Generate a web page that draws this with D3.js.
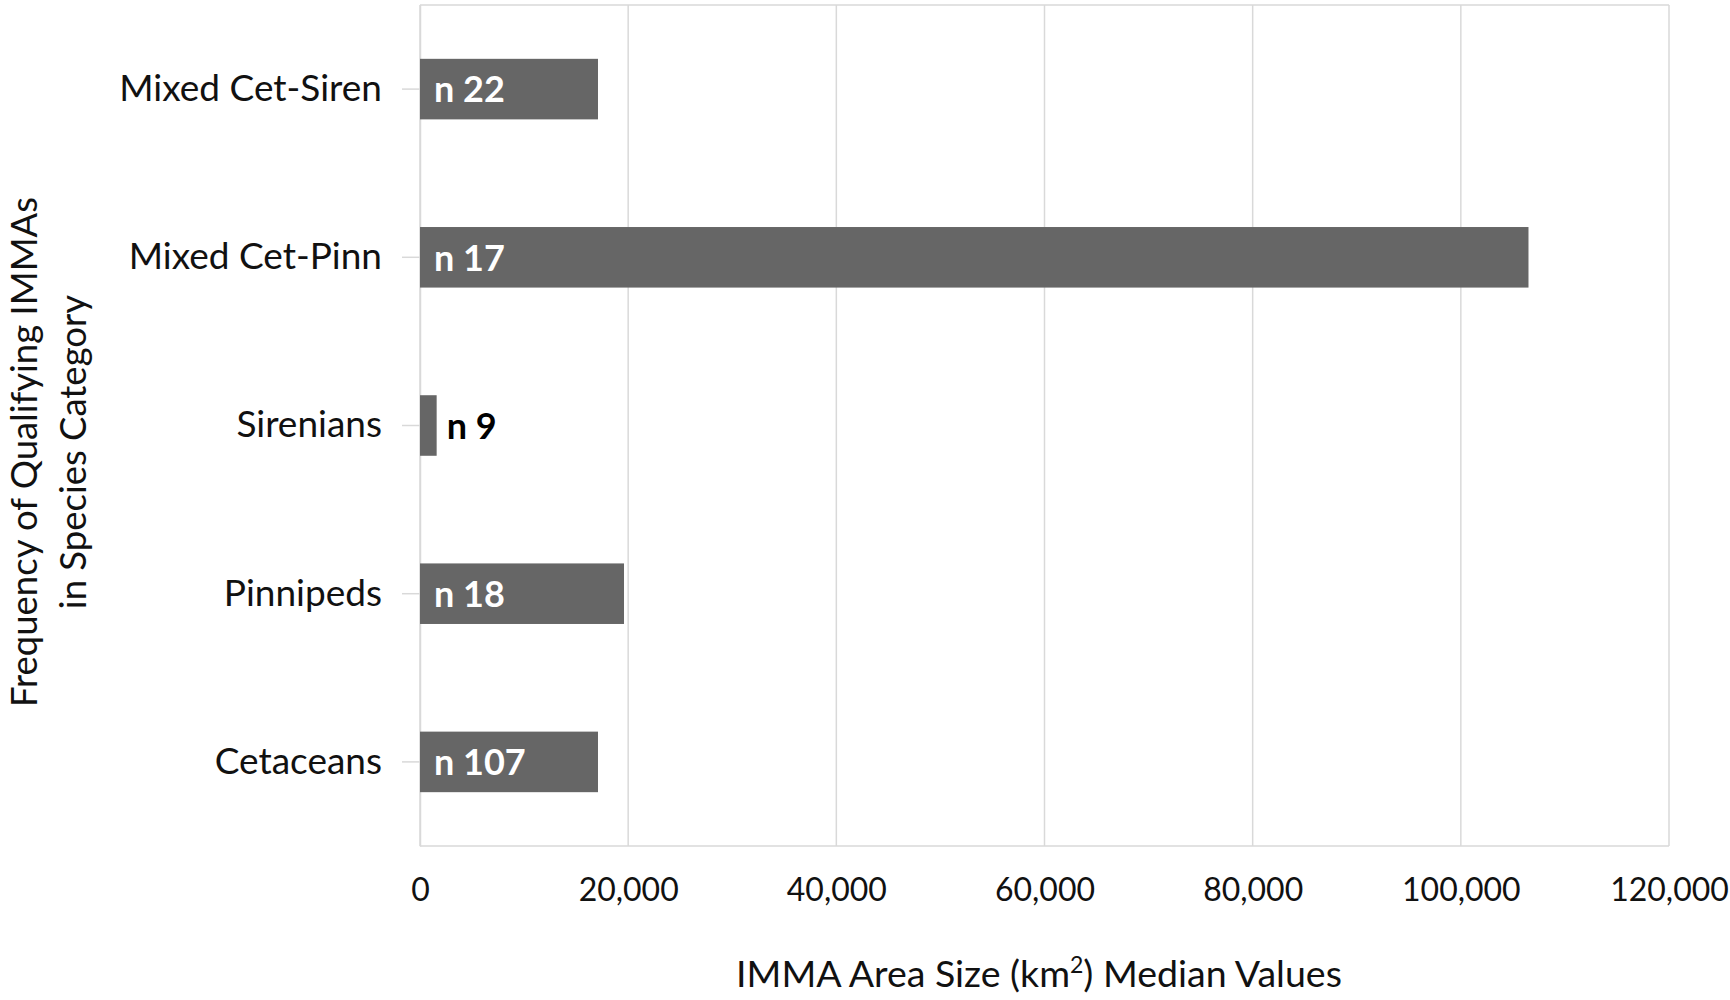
<!DOCTYPE html>
<html>
<head>
<meta charset="utf-8">
<script src="https://cdn.jsdelivr.net/npm/d3@7"></script>
<style>
  html, body { margin: 0; padding: 0; background: #fff; }
  svg { display: block; font-family: Lato, "Open Sans", sans-serif; }
</style>
</head>
<body>
<svg id="chart" width="1730" height="1000"></svg>
<script>
const categories = ["Mixed Cet-Siren", "Mixed Cet-Pinn", "Sirenians", "Pinnipeds", "Cetaceans"];
const medianValues = [17100, 106500, 1600, 19600, 17100];
const nLabels = ["n 22", "n 17", "n 9", "n 18", "n 107"];
const xTicks = [0, 20000, 40000, 60000, 80000, 100000, 120000];
const yTitleLines = ["Frequency of Qualifying IMMAs", "in Species Category"];

const svg = d3.select("#chart");
const plotL = 420, plotR = 1669, plotT = 5, plotB = 846;

const x = d3.scaleLinear().domain([0, 120000]).range([plotL, plotR]);
const y = d3.scaleBand().domain(categories).range([plotT, plotB]).paddingInner(0.64).paddingOuter(0.32);

const grid = "#d9d9d9";

// gridlines
svg.append("g").selectAll("line").data(xTicks).join("line")
  .attr("x1", d => x(d)).attr("x2", d => x(d))
  .attr("y1", plotT).attr("y2", plotB)
  .attr("stroke", grid).attr("stroke-width", 1.5);

// plot border top / bottom
svg.append("line").attr("x1", plotL).attr("x2", plotR).attr("y1", plotT).attr("y2", plotT)
  .attr("stroke", grid).attr("stroke-width", 1.5);
svg.append("line").attr("x1", plotL).attr("x2", plotR).attr("y1", plotB).attr("y2", plotB)
  .attr("stroke", grid).attr("stroke-width", 1.5);

// x axis labels
const xAxis = d3.axisBottom(x).tickValues(xTicks).tickSize(0).tickPadding(0)
  .tickFormat(d3.format(","));
const gx = svg.append("g").attr("transform", `translate(0,${plotB})`).call(xAxis);
gx.select(".domain").remove();
gx.selectAll("text").attr("font-size", 32).attr("fill", "#111")
  .attr("font-family", "Lato, sans-serif").attr("dy", null).attr("y", 55);

// y axis
const yAxis = d3.axisLeft(y).tickSizeInner(18).tickSizeOuter(0).tickPadding(20);
const gy = svg.append("g").attr("transform", `translate(${plotL},0)`).call(yAxis);
gy.select(".domain").attr("stroke", grid).attr("stroke-width", 1.5);
gy.selectAll(".tick line").attr("stroke", grid).attr("stroke-width", 1.5);
gy.selectAll("text").attr("font-size", 37).attr("fill", "#111")
  .attr("font-family", "Lato, sans-serif");

// bars
svg.append("g").selectAll("rect").data(categories).join("rect")
  .attr("x", x(0))
  .attr("y", d => y(d))
  .attr("width", (d, i) => x(medianValues[i]) - x(0))
  .attr("height", y.bandwidth())
  .attr("fill", "#666666");

// n labels
svg.append("g").selectAll("text").data(categories).join("text")
  .attr("x", (d, i) => {
    const w = x(medianValues[i]) - x(0);
    return w > 80 ? x(0) + 14 : x(medianValues[i]) + 10;
  })
  .attr("y", d => y(d) + y.bandwidth() / 2)
  .attr("dy", "0.37em")
  .attr("font-size", 36).attr("font-weight", 700)
  .attr("fill", (d, i) => (x(medianValues[i]) - x(0)) > 80 ? "#ffffff" : "#000000")
  .text((d, i) => nLabels[i]);

// y title
const yt = svg.append("text")
  .attr("transform", "translate(37,452) rotate(-90)")
  .attr("text-anchor", "middle")
  .attr("font-size", 36.5).attr("fill", "#111");
yt.selectAll("tspan").data(yTitleLines).join("tspan")
  .attr("x", 0).attr("dy", (d, i) => i === 0 ? 0 : 49)
  .text(d => d);

// x title
const xt = svg.append("text")
  .attr("x", 1039).attr("y", 987)
  .attr("text-anchor", "middle")
  .attr("font-size", 37.5).attr("fill", "#111");
xt.append("tspan").text("IMMA Area Size (km");
xt.append("tspan").attr("font-size", 23).attr("dy", -14).text("2");
xt.append("tspan").attr("dy", 14).text(") Median Values");
</script>
</body>
</html>
